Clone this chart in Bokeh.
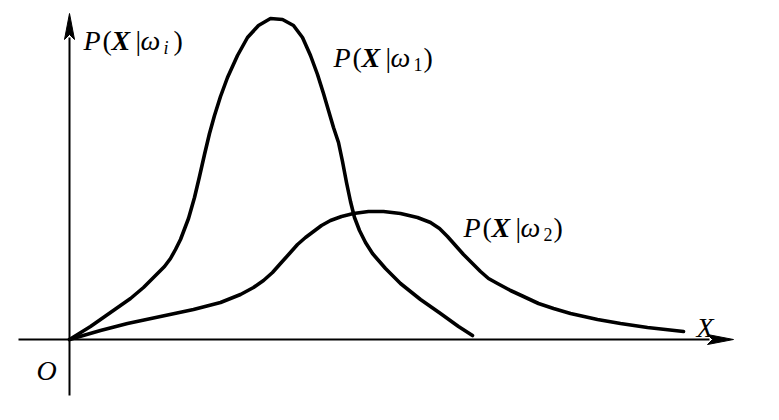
from bokeh.plotting import figure
from bokeh.models import Range1d, Label
from bokeh.embed import file_html
from bokeh.resources import INLINE

# Curve P(X|w1)
c1_x = [0, 21, 41, 61, 74, 88, 95, 101, 106, 111, 119, 125, 130, 135, 140, 145, 151, 158, 168, 178, 189, 201,
        213, 224, 233, 241, 248, 254, 259, 264, 269, 273, 277, 281, 285, 290, 296, 303, 316, 331, 351, 371, 389, 403]
c1_y = [0, 13, 27, 41, 52, 66, 73, 81, 90, 100, 121, 142, 163, 185, 206, 224, 243, 262, 284, 302, 314, 321,
        320, 314, 302, 284, 265, 246, 229, 212, 197, 178, 157, 138, 122, 109, 97, 86, 71, 56, 40, 26, 13, 4]
# Curve P(X|w2)
c2_x = [0, 31, 58, 91, 124, 151, 171, 184, 194, 203, 211, 220, 228, 236, 244, 252, 261, 272, 284, 299, 314,
        331, 348, 361, 370, 378, 386, 394, 403, 411, 419, 428, 441, 454, 469, 484, 501, 528, 551, 578, 614]
c2_y = [0, 9, 16, 23, 30, 37, 45, 52, 59, 67, 76, 86, 95, 102, 108, 114, 119, 123, 126, 128, 128,
        126, 122, 117, 111, 103, 94, 85, 76, 68, 61, 56, 49, 43, 36, 31, 26, 20, 16, 12, 8]

# axis extents
x_axis_start, x_axis_tip = -51, 664
y_axis_start, y_axis_tip = -56, 326
head_len, head_half = 26, 5

W, H = 779, 420
p = figure(width=W, height=H, output_backend="svg", toolbar_location=None,
           x_range=Range1d(-69, 710), y_range=Range1d(-81, 339), min_border=0)
p.axis.visible = False
p.grid.visible = False
p.outline_line_color = None
p.background_fill_color = "white"
p.border_fill_color = "white"

# axes
p.line([x_axis_start, x_axis_tip - head_len + 2], [0, 0], line_color="black", line_width=2)
p.line([0, 0], [y_axis_start, y_axis_tip - head_len + 2], line_color="black", line_width=2)
p.patch([x_axis_tip, x_axis_tip - head_len, x_axis_tip - head_len + 5, x_axis_tip - head_len],
        [0, head_half, 0, -head_half], fill_color="black", line_color="black", line_width=1)
p.patch([0, head_half, 0, -head_half],
        [y_axis_tip, y_axis_tip - head_len, y_axis_tip - head_len + 5, y_axis_tip - head_len],
        fill_color="black", line_color="black", line_width=1)

# curves
p.line(c1_x, c1_y, line_color="black", line_width=3.6, line_join="round", line_cap="round")
p.line(c2_x, c2_y, line_color="black", line_width=3.6, line_join="round", line_cap="round")

FONT = "Liberation Serif"
FS = "28px"


def add_label(x0, y0, sub):
    pieces = [
        ("P", "italic", 0, 0, FS),
        ("(", "normal", 19, 0, FS),
        ("X", "bold italic", 28, 0, FS),
        ("|", "normal", 52, 0, FS),
        ("ω", "italic", 57, 0, FS),
        (sub, "italic" if sub == "i" else "normal", 80, -7, "18px"),
        (")", "normal", 90, 0, FS),
    ]
    for t, style, dx, dy, fs in pieces:
        p.add_layout(Label(x=x0 + dx, y=y0 + dy, text=t, text_font=FONT, text_font_style=style,
                           text_font_size=fs, text_baseline="alphabetic", text_align="left",
                           text_color="black"))


add_label(14, 299, "i")
add_label(264, 282, "1")
add_label(394, 112, "2")

p.add_layout(Label(x=-33, y=-31, text="O", text_font=FONT, text_font_style="italic",
                   text_font_size=FS, text_baseline="alphabetic", text_color="black"))
p.add_layout(Label(x=627, y=12, text="X", text_font=FONT, text_font_style="italic",
                   text_font_size=FS, text_baseline="alphabetic", text_color="black"))

open("out.html", "w").write(file_html(p, INLINE))
